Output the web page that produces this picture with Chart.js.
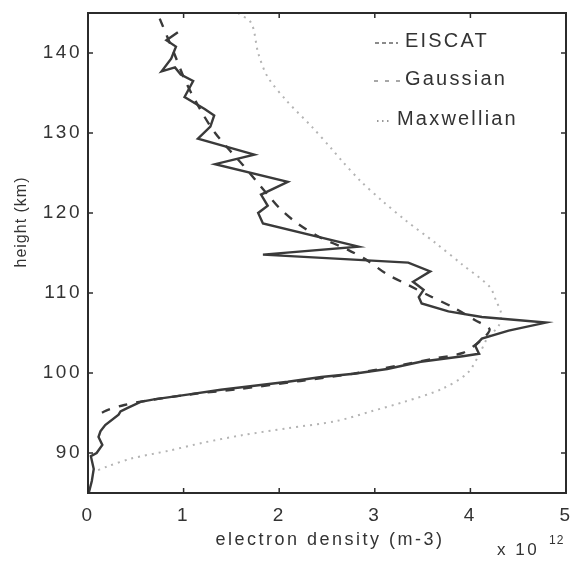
<!DOCTYPE html>
<html>
<head>
<meta charset="utf-8">
<title>Electron density profile</title>
<script src="https://cdn.jsdelivr.net/npm/chart.js@4/dist/chart.umd.min.js"></script>
<style>
  html, body { margin: 0; padding: 0; background: #ffffff; }
  canvas { display: block; }
</style>
</head>
<body>
<canvas id="profile" width="571" height="561"></canvas>
<script>
// Electron density (units of 1e12 m^-3) against height (km)

// EISCAT measured profile, listed from the top of the range downwards
const eiscatHeight = [142.6, 141.6, 140.8, 139.3, 137.7, 138.2, 137.3, 136.5, 134.5, 133.0,
  132.2, 130.8, 129.3, 127.3, 126.1, 123.9, 122.3, 120.9, 120.0, 118.7,
  115.8, 114.8, 113.8, 112.7, 111.4, 110.4, 109.5, 108.7, 107.7, 107.0,
  106.3, 105.3, 104.3, 103.4, 102.4, 102.1, 101.4, 100.5, 99.9, 99.5,
  98.9, 98.4, 97.9, 97.3, 96.7, 96.4, 95.6, 95.2, 94.8, 93.5,
  92.7, 92.0, 91.0, 90.0, 89.6, 88.0, 86.5, 85.1];
const eiscatDensity = [0.94, 0.82, 0.92, 0.87, 0.77, 0.91, 0.97, 1.10, 1.01, 1.22,
  1.32, 1.28, 1.15, 1.74, 1.33, 2.09, 1.81, 1.88, 1.78, 1.83,
  2.83, 1.83, 3.35, 3.58, 3.40, 3.51, 3.46, 3.49, 3.77, 4.12,
  4.79, 4.40, 4.12, 4.05, 4.09, 3.92, 3.48, 3.13, 2.78, 2.44,
  2.09, 1.74, 1.39, 1.04, 0.69, 0.55, 0.41, 0.34, 0.32, 0.18,
  0.13, 0.11, 0.15, 0.09, 0.03, 0.06, 0.04, 0.01];

// Gaussian model profile
const gaussHeight = [144.3, 142, 140, 137, 135, 132, 130, 128, 126, 124,
  122, 120.4, 118.7, 117, 115.4, 114, 112.4, 111, 109.6, 108.2,
  106.6, 105.5, 104.5, 103.5, 102.5, 101.8, 101, 100, 99, 98,
  97.4, 96.6, 96, 95.3, 94.5];
const gaussDensity = [0.75, 0.83, 0.90, 1.00, 1.08, 1.22, 1.33, 1.47, 1.62, 1.76,
  1.90, 2.02, 2.19, 2.42, 2.72, 2.93, 3.12, 3.35, 3.58, 3.82,
  4.05, 4.20, 4.15, 4.05, 3.92, 3.62, 3.28, 2.82, 2.22, 1.58,
  1.12, 0.64, 0.38, 0.19, 0.07];

// Maxwellian model profile
const maxwellHeight = [145, 143.7, 140, 137, 134, 130.8, 128, 126.6, 124, 121.6,
  119, 116.3, 113.5, 110.8, 109, 107.5, 106, 104.2, 102.5, 100,
  98, 96.4, 95.2, 94, 93.1, 92.2, 91.3, 90.3, 89.3, 88.3, 87.6];
const maxwellDensity = [1.57, 1.71, 1.78, 1.88, 2.08, 2.34, 2.55, 2.65, 2.85, 3.07,
  3.33, 3.63, 3.92, 4.20, 4.27, 4.32, 4.30, 4.17, 4.10, 3.97,
  3.70, 3.31, 2.96, 2.60, 2.09, 1.60, 1.21, 0.85, 0.45, 0.20, 0.05];

const seriesNames = ['EISCAT', 'Gaussian', 'Maxwellian'];
const xTicks = [0, 1, 2, 3, 4, 5];
const yTicks = [90, 100, 110, 120, 130, 140];
const xTitle = 'electron density (m-3)';
const yTitle = 'height (km)';
const exponentBase = 'x 10';
const exponentPower = '12';

const FONT = "'Liberation Sans', Arial, Helvetica, sans-serif";
const INK = '#333333';

const toPoints = (h, d) => h.map((v, i) => ({ x: d[i], y: v }));

// Frame, inward ticks, legend and axis titles
const decor = {
  id: 'decor',
  beforeDraw(chart) {
    chart.ctx.letterSpacing = '2.5px';
  },
  afterDraw(chart) {
    const { ctx, chartArea: a, scales: { x, y } } = chart;
    ctx.save();
    const seg = (x1, y1, x2, y2) => { ctx.beginPath(); ctx.moveTo(x1, y1); ctx.lineTo(x2, y2); ctx.stroke(); };

    ctx.strokeStyle = '#2b2b2b';
    ctx.lineWidth = 2;
    ctx.strokeRect(a.left, a.top, a.right - a.left, a.bottom - a.top);

    ctx.lineWidth = 1.5;
    xTicks.forEach(v => {
      const px = x.getPixelForValue(v);
      seg(px, a.bottom, px, a.bottom - 5);
      seg(px, a.top, px, a.top + 5);
    });
    yTicks.forEach(v => {
      const py = y.getPixelForValue(v);
      seg(a.left, py, a.left + 5, py);
      seg(a.right, py, a.right - 5, py);
    });

    // legend
    ctx.fillStyle = INK;
    ctx.font = '20px ' + FONT;
    ctx.letterSpacing = '2.2px';
    ctx.textBaseline = 'alphabetic';
    ctx.textAlign = 'left';
    const rows = [
      { y: 40, textX: 405, x1: 375, x2: 398, dash: [4, 3], color: '#666666' },
      { y: 78, textX: 405, x1: 374, x2: 400, dash: [4, 7], color: '#8a8a8a' },
      { y: 118, textX: 397, x1: 377, x2: 392, dash: [1.5, 3.5], color: '#777777' }
    ];
    rows.forEach((r, i) => {
      ctx.save();
      ctx.strokeStyle = r.color;
      ctx.lineWidth = 1.6;
      ctx.setLineDash(r.dash);
      seg(r.x1, r.y + 3, r.x2, r.y + 3);
      ctx.restore();
      ctx.fillText(seriesNames[i], r.textX, r.y + 7);
    });

    // x axis title and exponent
    ctx.font = '18px ' + FONT;
    ctx.letterSpacing = '2.5px';
    ctx.textAlign = 'center';
    ctx.textBaseline = 'middle';
    ctx.fillText(xTitle, (a.left + a.right) / 2 + 3, 540);
    ctx.textAlign = 'left';
    ctx.font = '17px ' + FONT;
    ctx.letterSpacing = '2.5px';
    ctx.fillText(exponentBase, 497, 550);
    ctx.font = '12px ' + FONT;
    ctx.letterSpacing = '1px';
    ctx.fillText(exponentPower, 549, 541);

    // y axis title
    ctx.save();
    ctx.translate(22, 222);
    ctx.rotate(-Math.PI / 2);
    ctx.font = '16px ' + FONT;
    ctx.letterSpacing = '1px';
    ctx.textAlign = 'center';
    ctx.textBaseline = 'middle';
    ctx.fillText(yTitle, 0, 0);
    ctx.restore();

    ctx.restore();
  }
};

new Chart(document.getElementById('profile'), {
  type: 'scatter',
  data: {
    datasets: [
      {
        label: seriesNames[0],
        data: toPoints(eiscatHeight, eiscatDensity),
        showLine: true,
        borderColor: '#3a3a3a',
        borderWidth: 2.4,
        pointRadius: 0,
        tension: 0
      },
      {
        label: seriesNames[1],
        data: toPoints(gaussHeight, gaussDensity),
        showLine: true,
        borderColor: '#3a3a3a',
        borderWidth: 2.4,
        borderDash: [9, 9],
        pointRadius: 0,
        tension: 0.3
      },
      {
        label: seriesNames[2],
        data: toPoints(maxwellHeight, maxwellDensity),
        showLine: true,
        borderColor: '#b4b4b4',
        borderWidth: 2,
        borderDash: [2, 5],
        pointRadius: 0,
        tension: 0.3
      }
    ]
  },
  options: {
    responsive: false,
    animation: false,
    devicePixelRatio: 1,
    layout: { padding: { left: 0, top: 13, right: 5, bottom: 0 } },
    plugins: { legend: { display: false }, tooltip: { enabled: false } },
    scales: {
      x: {
        type: 'linear',
        min: 0,
        max: 5,
        afterBuildTicks: s => { s.ticks = xTicks.map(v => ({ value: v })); },
        afterFit: s => { s.height = 68; s.paddingLeft = 0; s.paddingRight = 0; },
        grid: { display: false, drawTicks: false },
        border: { display: false },
        ticks: {
          padding: 11,
          color: INK,
          autoSkip: false,
          maxRotation: 0,
          font: { family: FONT, size: 19 }
        }
      },
      y: {
        type: 'linear',
        min: 85,
        max: 145,
        afterBuildTicks: s => { s.ticks = yTicks.map(v => ({ value: v })); },
        afterFit: s => { s.width = 88; s.paddingTop = 0; s.paddingBottom = 0; },
        grid: { display: false, drawTicks: false },
        border: { display: false },
        ticks: {
          padding: 6,
          color: INK,
          autoSkip: false,
          font: { family: FONT, size: 19 }
        }
      }
    }
  },
  plugins: [decor]
});
</script>
</body>
</html>
